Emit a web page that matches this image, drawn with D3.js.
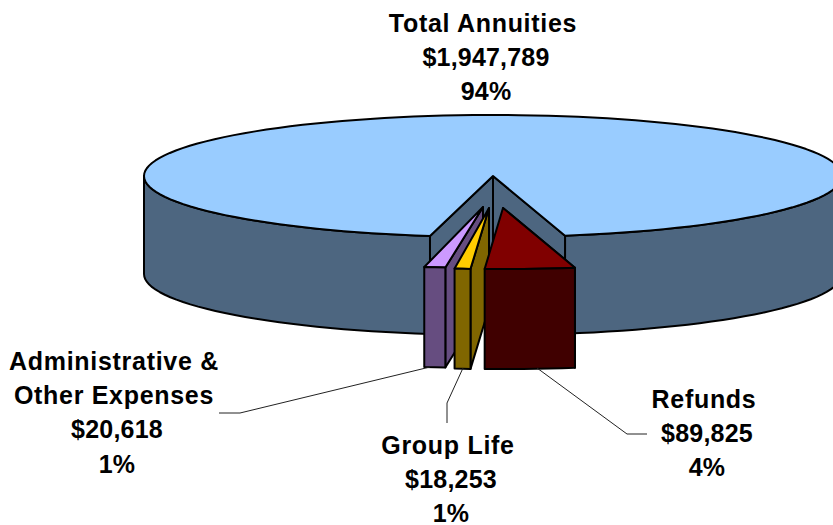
<!DOCTYPE html>
<html>
<head>
<meta charset="utf-8">
<script src="https://cdn.jsdelivr.net/npm/d3@7"></script>
<style>
html, body { margin: 0; padding: 0; background: #fff; overflow: hidden; }
text { font-family: "Liberation Sans", Arial, sans-serif; font-weight: bold; font-size: 25px; fill: #000; text-anchor: middle; }
.edge { stroke: #000; stroke-width: 2; stroke-linejoin: round; }
.leader { fill: none; stroke: #222; stroke-width: 1; }
</style>
</head>
<body>
<svg width="833" height="525"></svg>
<script>
var names = ["Total Annuities", "Refunds", "Group Life", "Administrative &\nOther Expenses"];
var values = [1947789, 89825, 18253, 20618];
var topColors = ["#99ccff", "#800000", "#ffcc00", "#cc99ff"];
var sideColors = ["#4d6680", "#400000", "#806600", "#664d80"];

var svg = d3.select("svg");
var total = d3.sum(values);
var rad = Math.PI / 180;

// squashed circle, 3d pie look
var cx = 493, cy = 176, rx = 349, ry = 61, depth = 98, sliceDepth = 100;
var xs = d3.scaleLinear().domain([-1, 1]).range([-rx, rx]);
var ys = d3.scaleLinear().domain([-1, 1]).range([-ry, ry]);

var pie = d3.pie().sort(null).startAngle(190.4 * rad).endAngle((190.4 + 360) * rad);
var arcs = pie(values);

// exploded slices: tip offset from centre, width fudge and rim nudge, per slice
var tips = [[0, 0], [10, 32], [-4, 32], [-10, 31]];
var widen = [1, 0.957, 0.83, 0.98];
var nudge = [0, 3, 0, 3];

var line = d3.line();

function rim(a, i, drop) {
  return [cx + tips[i][0] + nudge[i] + xs(Math.sin(a)) * widen[i],
          cy + tips[i][1] - ys(Math.cos(a)) + (drop || 0)];
}
function tip(i, drop) {
  return [cx + tips[i][0], cy + tips[i][1] + (drop || 0)];
}
function sweep(a0, a1, i, drop) {
  var n = Math.max(2, Math.ceil(Math.abs(a1 - a0) / (2.5 * rad)));
  return d3.range(n + 1).map(function(k) { return rim(a0 + (a1 - a0) * k / n, i, drop); });
}
function shape(pts, fill) {
  svg.append("path").attr("class", "edge").attr("fill", fill).attr("d", line(pts) + "Z");
}
function wall(a0, a1, i, drop, fill) {
  shape(sweep(a0, a1, i, 0).concat(sweep(a1, a0, i, drop)), fill);
}

// big slice first
var big = arcs[0];
wall(big.startAngle, 270 * rad, 0, depth, sideColors[0]);
wall(450 * rad, big.endAngle, 0, depth, sideColors[0]);
shape([tip(0), rim(big.startAngle, 0), rim(big.startAngle, 0, depth), tip(0, depth)], sideColors[0]);
shape([tip(0), rim(big.endAngle, 0), rim(big.endAngle, 0, depth), tip(0, depth)], sideColors[0]);
shape([tip(0)].concat(sweep(big.startAngle, big.endAngle, 0)), topColors[0]);

// pulled out slices, back to front
[3, 2, 1].forEach(function(i) {
  var d = arcs[i];
  shape([tip(i), rim(d.startAngle, i), rim(d.startAngle, i, sliceDepth), tip(i, sliceDepth)], sideColors[i]);
  shape([tip(i)].concat(sweep(d.startAngle, d.endAngle, i)), topColors[i]);
  wall(d.startAngle, d.endAngle, i, sliceDepth, sideColors[i]);
});

// leader lines
var leaders = [
  [[647, 434], [627, 434], [537, 368]],
  [[447, 423], [447, 403], [463, 368]],
  [[219, 413], [240, 413], [430, 367]]
];
leaders.forEach(function(p) {
  svg.append("path").attr("class", "leader").attr("d", line(p));
});

// labels
var labelPos = [
  { x: 483, y: 31.5 },
  { x: 704, y: 407.5 },
  { x: 448, y: 453.5 },
  { x: 114, y: 369.5 }
];
var money = d3.format("$,");
var pct = d3.format(".0%");
var gap = 34.4;

names.forEach(function(n, i) {
  var rows = n.split("\n");
  var nameRows = rows.length;
  rows = rows.concat([money(values[i]), pct(values[i] / total)]);
  svg.append("text").selectAll("tspan")
    .data(rows)
    .enter().append("tspan")
    .attr("x", function(r, k) { return labelPos[i].x + (k < nameRows ? 0 : 3); })
    .attr("y", function(r, k) { return labelPos[i].y + k * gap; })
    .attr("letter-spacing", function(r, k) { return k < nameRows ? 0.7 : 0.2; })
    .text(function(r) { return r; });
});
</script>
</body>
</html>
